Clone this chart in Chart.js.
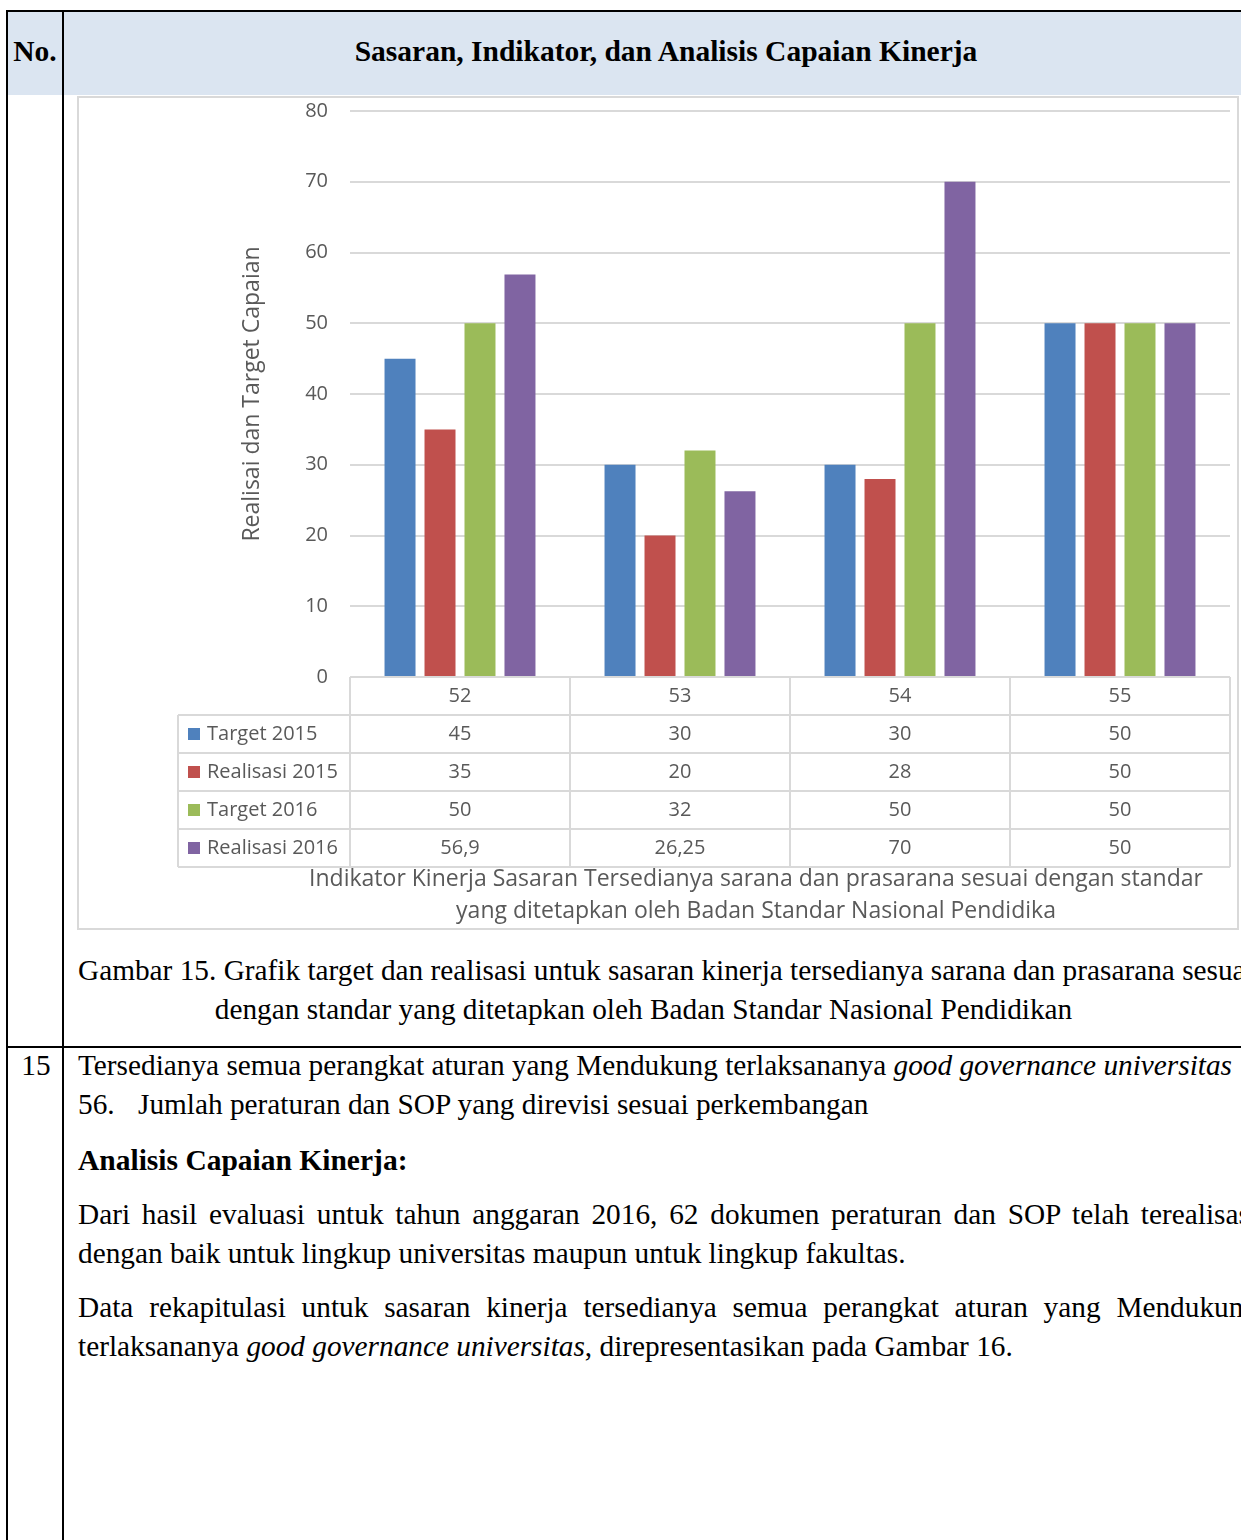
<!DOCTYPE html>
<html>
<head>
<meta charset="utf-8">
<script src="https://cdn.jsdelivr.net/npm/chart.js@4.4.1/dist/chart.umd.min.js"></script>
<style>
  html, body { margin: 0; padding: 0; background: #fff; }
  body { width: 1241px; height: 1540px; position: relative; overflow: hidden; font-family: "Liberation Serif", "Times New Roman", serif; color: #000; }
  .abs { position: absolute; }
  .line { position: absolute; white-space: nowrap; font-size: 29.3px; line-height: 39px; }
  .just { text-align: justify; text-align-last: justify; }
  .bold { font-weight: bold; font-size: 29.5px; }
  #chartBox { position: absolute; left: 77px; top: 96px; width: 1162px; height: 834px; border: 2px solid #d9d9d9; box-sizing: border-box; background: #fff; }
  #chartBox canvas { position: absolute; left: 0; top: 0; }
</style>
</head>
<body>
  <!-- document table frame -->
  <div class="abs" style="left:8px;top:12px;width:1300px;height:83px;background:#dbe5f1;"></div>
  <div class="abs" style="left:6px;top:10px;width:1300px;height:2px;background:#000;"></div>
  <div class="abs" style="left:6px;top:10px;width:2px;height:1540px;background:#000;"></div>
  <div class="abs" style="left:62px;top:10px;width:2px;height:1540px;background:#000;"></div>
  <div class="abs" style="left:6px;top:1046px;width:1300px;height:2px;background:#000;"></div>

  <div class="line bold" style="left:8px;top:32px;width:54px;text-align:center;">No.</div>
  <div class="line bold" style="left:64px;top:32px;width:1204px;text-align:center;">Sasaran, Indikator, dan Analisis Capaian Kinerja</div>

  <div id="chartBox"><canvas id="chart" width="1158" height="830"></canvas></div>

  <div class="line" style="left:78px;top:951px;">Gambar 15. Grafik target dan realisasi untuk sasaran kinerja tersedianya sarana dan prasarana sesuai</div>
  <div class="line" style="left:0;top:990px;width:1287px;text-align:center;">dengan standar yang ditetapkan oleh Badan Standar Nasional Pendidikan</div>

  <div class="line" style="left:8px;top:1046px;width:56px;text-align:center;">15</div>
  <div class="line" style="left:78px;top:1046px;">Tersedianya semua perangkat aturan yang Mendukung terlaksananya <i>good governance universitas</i></div>
  <div class="line" style="left:78px;top:1085px;">56.</div>
  <div class="line" style="left:138px;top:1085px;">Jumlah peraturan dan SOP yang direvisi sesuai perkembangan</div>

  <div class="line bold" style="left:78px;top:1141px;">Analisis Capaian Kinerja:</div>

  <div class="line just" style="left:78px;top:1195px;width:1180px;">Dari hasil evaluasi untuk tahun anggaran 2016, 62 dokumen peraturan dan SOP telah terealisasi</div>
  <div class="line" style="left:78px;top:1234px;">dengan baik untuk lingkup universitas maupun untuk lingkup fakultas.</div>

  <div class="line just" style="left:78px;top:1288px;width:1180px;">Data rekapitulasi untuk sasaran kinerja tersedianya semua perangkat aturan yang Mendukung</div>
  <div class="line" style="left:78px;top:1327px;">terlaksananya <i>good governance universitas</i>, direpresentasikan pada Gambar 16.</div>

<script>
// ---- data ----
const categories = ['52', '53', '54', '55'];
const seriesNames = ['Target 2015', 'Realisasi 2015', 'Target 2016', 'Realisasi 2016'];
const target2015 = [45, 30, 30, 50];
const realisasi2015 = [35, 20, 28, 50];
const target2016 = [50, 32, 50, 50];
const realisasi2016 = [56.9, 26.25, 70, 50];
const yTicks = [0, 10, 20, 30, 40, 50, 60, 70, 80];
const yTitle = 'Realisai dan Target Capaian';
const xTitle = ['Indikator Kinerja Sasaran Tersedianya sarana dan prasarana sesuai dengan standar',
                'yang ditetapkan oleh Badan Standar Nasional Pendidika'];

const seriesValues = [target2015, realisasi2015, target2016, realisasi2016];
const seriesColors = ['#4f81bd', '#c0504d', '#9bbb59', '#8064a2'];

const textColor = '#595959';
const lineColor = '#d9d9d9';
const chartFont = '"Open Sans", "Noto Sans", sans-serif';

// layout constants (canvas pixels)
const rowHeight = 38;
const legendLeft = 99;

// format like the source sheet (comma decimal)
function fmt(v) {
  return String(v).replace('.', ',');
}

// draws the data table under the plot plus the x-axis title
const dataTablePlugin = {
  id: 'dataTable',
  afterDraw(chart) {
    const ctx = chart.ctx;
    const area = chart.chartArea;
    const x = chart.scales.x;
    const half = (area.right - area.left) / categories.length / 2;
    const top = area.bottom;
    const rows = seriesNames.length + 1;

    ctx.save();
    ctx.strokeStyle = lineColor;
    ctx.lineWidth = 2;

    // horizontal lines
    for (let r = 0; r <= rows; r++) {
      const y = top + r * rowHeight;
      ctx.beginPath();
      ctx.moveTo(r === 0 ? area.left : legendLeft, y);
      ctx.lineTo(area.right, y);
      ctx.stroke();
    }
    // vertical lines
    ctx.beginPath();
    ctx.moveTo(legendLeft, top + rowHeight);
    ctx.lineTo(legendLeft, top + rows * rowHeight);
    ctx.stroke();
    for (let i = 0; i <= categories.length; i++) {
      const px = i < categories.length ? x.getPixelForValue(i) - half : x.getPixelForValue(i - 1) + half;
      ctx.beginPath();
      ctx.moveTo(px, top);
      ctx.lineTo(px, top + rows * rowHeight);
      ctx.stroke();
    }

    ctx.font = '20px ' + chartFont;
    ctx.fillStyle = textColor;
    ctx.textBaseline = 'middle';

    seriesNames.forEach((name, s) => {
      const cy = top + (s + 1) * rowHeight + rowHeight / 2;
      // legend key
      ctx.fillStyle = seriesColors[s];
      ctx.fillRect(legendLeft + 10, cy - 6, 12, 12);
      ctx.fillStyle = textColor;
      ctx.textAlign = 'left';
      ctx.fillText(name, legendLeft + 29, cy);
      // values
      ctx.textAlign = 'center';
      seriesValues[s].forEach((v, i) => {
        ctx.fillText(fmt(v), x.getPixelForValue(i), cy);
      });
    });

    // x-axis title, centred on the whole chart like the source
    ctx.font = '23px ' + chartFont;
    ctx.textAlign = 'center';
    xTitle.forEach((t, i) => {
      ctx.fillText(t, 677, top + rows * rowHeight + 12 + i * 32);
    });
    ctx.restore();
  }
};

new Chart(document.getElementById('chart'), {
  type: 'bar',
  data: {
    labels: categories,
    datasets: seriesNames.map((name, s) => ({
      label: name,
      data: seriesValues[s],
      backgroundColor: seriesColors[s],
      borderWidth: 0,
      categoryPercentage: 0.727,
      barPercentage: 0.775
    }))
  },
  options: {
    responsive: false,
    animation: false,
    devicePixelRatio: 1,
    layout: { padding: { top: 13, right: 7, left: 0, bottom: 0 } },
    plugins: {
      legend: { display: false },
      tooltip: { enabled: false }
    },
    scales: {
      y: {
        min: 0,
        max: 80,
        afterBuildTicks: (axis) => { axis.ticks = yTicks.map(v => ({ value: v })); },
        afterFit: (axis) => {
          axis.width = 271;
          axis.paddingTop = 10;
          axis.paddingBottom = 10;
        },
        border: { display: false },
        grid: { color: lineColor, lineWidth: 2, drawTicks: false },
        ticks: { color: textColor, padding: 22, font: { family: chartFont, size: 20 } },
        title: {
          display: true,
          text: yTitle,
          color: textColor,
          font: { family: chartFont, size: 23 },
          padding: { top: 160, bottom: 0 }
        }
      },
      x: {
        afterFit: (axis) => { axis.height = 251; },
        border: { display: false },
        grid: { display: false, drawTicks: false },
        ticks: { color: textColor, padding: 7, font: { family: chartFont, size: 20 } }
      }
    }
  },
  plugins: [dataTablePlugin]
});
</script>
</body>
</html>
